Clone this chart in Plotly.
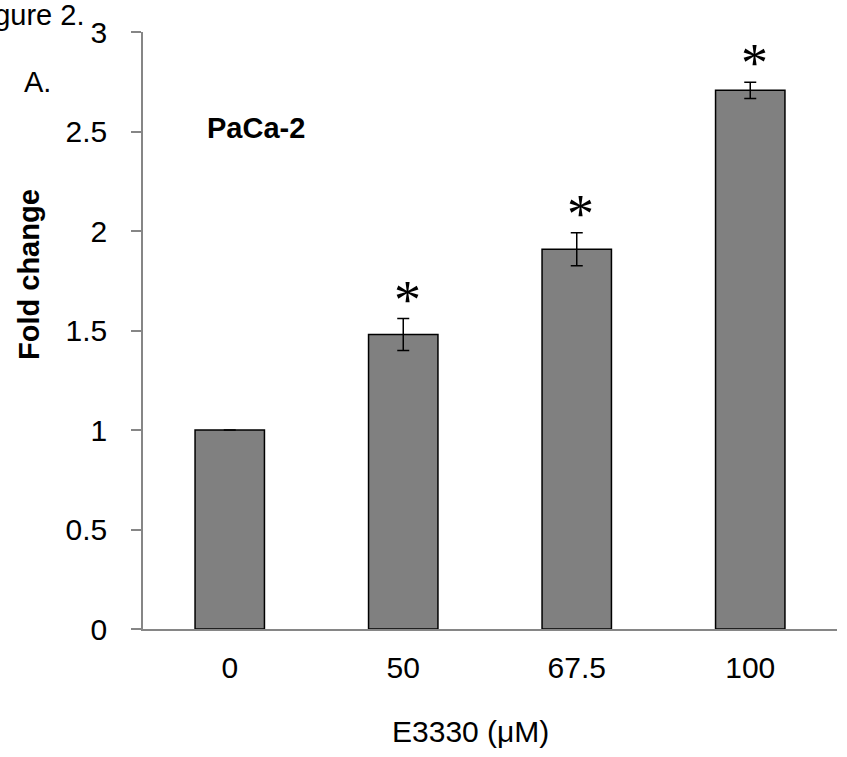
import plotly.graph_objects as go

categories = ["0", "50", "67.5", "100"]
fold_change = [1.0, 1.48, 1.908, 2.707]
errors = [None, 0.080, 0.083, 0.041]
significant = [False, True, True, True]
y_ticks = [0, 0.5, 1, 1.5, 2, 2.5, 3]
y_tick_labels = ["0", "0.5", "1", "1.5", "2", "2.5", "3"]

W, H = 847, 757
L, R, T, B = 143, 10, 32, 128
pw, ph = W - L - R, H - T - B

def px_x(px):
    return (px - L) / pw

def px_y(py):
    return (H - B - py) / ph

font_main = "Liberation Sans, Arial, sans-serif"
positions = list(range(len(categories)))

fig = go.Figure()
fig.add_trace(go.Bar(
    x=positions, y=fold_change,
    marker=dict(color="#808080", line=dict(color="#000000", width=1.5)),
    error_y=dict(type="data", array=errors, visible=True, color="#000000",
                 thickness=1.5, width=6),
    width=0.4,
    showlegend=False,
))

annotations = []
for p, v, e, s in zip(positions, fold_change, errors, significant):
    if s:
        annotations.append(dict(
            x=p, y=v + (e or 0), xref="x", yref="y",
            text="*", showarrow=False,
            font=dict(family="Liberation Serif, Times New Roman, serif", size=54, color="#000"),
            xanchor="center", yanchor="bottom", xshift=4, yshift=-13,
        ))

annotations += [
    dict(text="Figure 2.", x=px_x(86), y=px_y(15), xref="paper", yref="paper",
         xanchor="right", yanchor="middle", showarrow=False,
         font=dict(family=font_main, size=29, color="#000")),
    dict(text="A.", x=px_x(37), y=px_y(82), xref="paper", yref="paper",
         xanchor="center", yanchor="middle", showarrow=False,
         font=dict(family=font_main, size=29, color="#000")),
    dict(text="<b>PaCa-2</b>", x=px_x(205), y=px_y(128), xref="paper", yref="paper",
         xanchor="left", yanchor="middle", showarrow=False,
         font=dict(family=font_main, size=29, color="#000")),
    dict(text="<b>Fold change</b>", x=px_x(29), y=px_y(275), xref="paper", yref="paper",
         xanchor="center", yanchor="middle", showarrow=False, textangle=-90,
         font=dict(family=font_main, size=29, color="#000")),
    dict(text="E3330 (μM)", x=px_x(470), y=px_y(731), xref="paper", yref="paper",
         xanchor="center", yanchor="middle", showarrow=False,
         font=dict(family=font_main, size=30, color="#000")),
]

fig.update_layout(
    width=W, height=H,
    margin=dict(l=L, r=R, t=T, b=B, pad=0),
    paper_bgcolor="white", plot_bgcolor="white",
    annotations=annotations,
    font=dict(family=font_main, size=30, color="#000"),
)
fig.update_xaxes(
    range=[-0.5, len(categories) - 0.5],
    tickvals=positions, ticktext=categories,
    showline=True, linecolor="#868686", linewidth=1.5,
    ticks="", showgrid=False, zeroline=False,
    tickfont=dict(family=font_main, size=30, color="#000"),
    ticklabelstandoff=11,
)
fig.update_yaxes(
    range=[0, 3], tickvals=y_ticks, ticktext=y_tick_labels,
    showline=True, linecolor="#868686", linewidth=1.5,
    ticks="outside", ticklen=10, tickcolor="#868686", tickwidth=1.5,
    showgrid=False, zeroline=False,
    tickfont=dict(family=font_main, size=30, color="#000"),
    ticklabelstandoff=18,
)

fig.write_html("out.html", config={"displayModeBar": False},
               post_script="document.body.style.margin='0';document.body.style.overflow='hidden';")
